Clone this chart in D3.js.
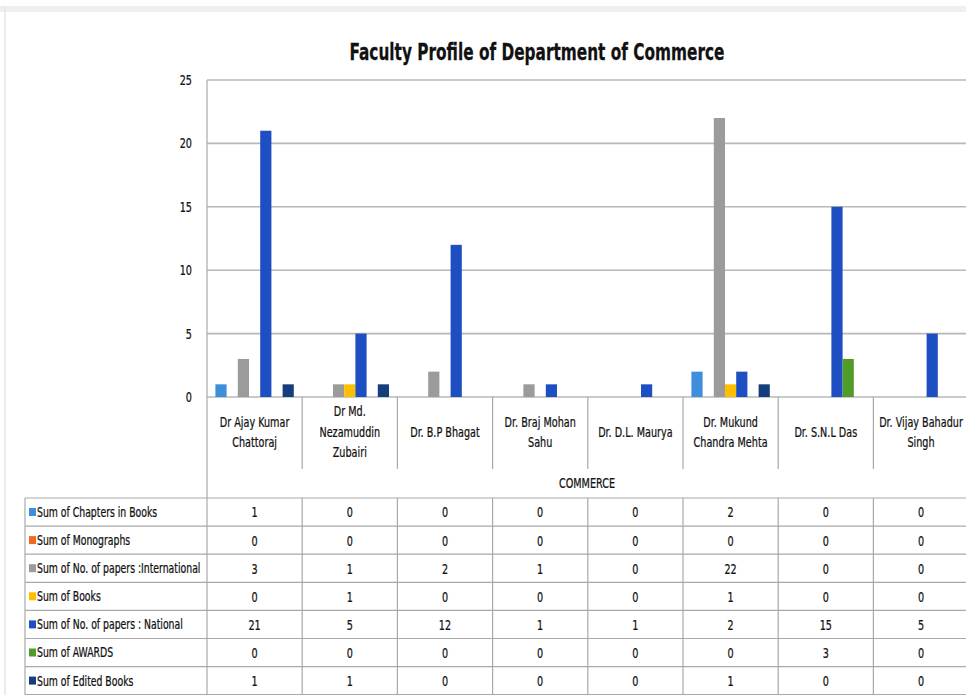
<!DOCTYPE html>
<html>
<head>
<meta charset="utf-8">
<script src="https://cdn.jsdelivr.net/npm/d3@7"></script>
<style>
  body { margin: 0; background: #fff; }
  svg text { font-family: "DejaVu Sans Condensed", "DejaVu Sans", sans-serif; fill: #111;
    stroke: #111; stroke-width: 0.25px; }
</style>
</head>
<body>
<svg id="chart" width="966" height="695"></svg>
<script>
// faculty names, split the way Excel wrapped them under the axis
const categories = ["Dr Ajay Kumar Chattoraj", "Dr Md. Nezamuddin Zubairi", "Dr. B.P Bhagat",
  "Dr. Braj Mohan Sahu", "Dr. D.L. Maurya", "Dr. Mukund Chandra Mehta", "Dr. S.N.L Das",
  "Dr. Vijay Bahadur Singh"];
const categoryLines = [["Dr Ajay Kumar", "Chattoraj"], ["Dr Md.", "Nezamuddin", "Zubairi"],
  ["Dr. B.P Bhagat"], ["Dr. Braj Mohan", "Sahu"], ["Dr. D.L. Maurya"],
  ["Dr. Mukund", "Chandra Mehta"], ["Dr. S.N.L Das"], ["Dr. Vijay Bahadur", "Singh"]];

const seriesNames = ["Sum of Chapters in Books", "Sum of Monographs",
  "Sum of No. of papers :International", "Sum of Books", "Sum of No. of papers : National",
  "Sum of AWARDS", "Sum of Edited Books"];
const seriesColors = ["#3d8edc", "#ef6a22", "#9b9b9b", "#ffbf00", "#1d4fc3", "#4f9c2b", "#143f7c"];

const chapters = [1, 0, 0, 0, 0, 2, 0, 0];
const monographs = [0, 0, 0, 0, 0, 0, 0, 0];
const papersIntl = [3, 1, 2, 1, 0, 22, 0, 0];
const books = [0, 1, 0, 0, 0, 1, 0, 0];
const papersNational = [21, 5, 12, 1, 1, 2, 15, 5];
const awards = [0, 0, 0, 0, 0, 0, 3, 0];
const editedBooks = [1, 1, 0, 0, 0, 1, 0, 0];

const yTicks = [0, 5, 10, 15, 20, 25];
const groupLabel = "COMMERCE";
const title = "Faculty Profile of Department of Commerce";

const seriesValues = [chapters, monographs, papersIntl, books, papersNational, awards, editedBooks];

const svg = d3.select("#chart");
const gridColor = "#b8b8b8";
const lineColor = "#a9a9a9";

// window frame left by the screenshot
svg.append("rect").attr("x", 0).attr("y", 6).attr("width", 966).attr("height", 6).attr("fill", "#efefef");
svg.append("line").attr("x1", 5).attr("x2", 5).attr("y1", 6).attr("y2", 695)
  .attr("stroke", "#e6e6e6").attr("stroke-width", 1.5);

const plotLeft = 207, plotRight = 968.6, plotTop = 80, plotBottom = 397;

const x = d3.scaleBand().domain(categories).range([plotLeft, plotRight]).padding(0);
const xs = d3.scaleBand().domain(seriesNames)
  .range([8.4, x.bandwidth() - 8.4]).padding(0);
const y = d3.scaleLinear().domain([0, 25]).range([plotBottom, plotTop]);

// title
svg.append("text").attr("x", 537).attr("y", 60).attr("text-anchor", "middle")
  .attr("font-size", 23).attr("font-weight", "bold").attr("class", "title").text(title);

// gridlines
svg.append("g").selectAll("line").data(yTicks).join("line")
  .attr("x1", plotLeft).attr("x2", 966)
  .attr("y1", d => y(d)).attr("y2", d => y(d))
  .attr("stroke", gridColor).attr("stroke-width", 1.6);

// y axis labels
svg.append("g").selectAll("text").data(yTicks).join("text")
  .attr("x", 192).attr("y", d => y(d) + 5)
  .attr("text-anchor", "end").attr("font-size", 14.5).text(d => d);

// bars
const barG = svg.append("g");
seriesValues.forEach((vals, si) => {
  barG.append("g").attr("fill", seriesColors[si])
    .selectAll("rect").data(vals.map((v, i) => ({ v, c: categories[i] }))).join("rect")
    .attr("x", d => x(d.c) + xs(seriesNames[si]))
    .attr("width", xs.bandwidth())
    .attr("y", d => y(d.v))
    .attr("height", d => y(0) - y(d.v));
});

// left axis line through chart + table
svg.append("line").attr("x1", plotLeft).attr("x2", plotLeft).attr("y1", plotTop).attr("y2", 694)
  .attr("stroke", lineColor).attr("stroke-width", 1.2);

// category separators under the axis
svg.append("g").selectAll("line").data(categories.slice(1)).join("line")
  .attr("x1", d => x(d)).attr("x2", d => x(d))
  .attr("y1", plotBottom).attr("y2", 469)
  .attr("stroke", lineColor).attr("stroke-width", 1.2);

// category labels
const lineH = 20.5;
svg.append("g").selectAll("text").data(categories).join("text")
  .attr("text-anchor", "middle").attr("font-size", 14.5)
  .attr("x", d => x(d) + x.bandwidth() / 2)
  .each(function (d, i) {
    const lines = categoryLines[i];
    const startY = 437 - (lines.length - 1) * lineH / 2;
    d3.select(this).selectAll("tspan").data(lines).join("tspan")
      .attr("x", x(d) + x.bandwidth() / 2)
      .attr("y", (l, j) => startY + j * lineH)
      .text(l => l);
  });

svg.append("text").attr("x", 587).attr("y", 488).attr("text-anchor", "middle")
  .attr("font-size", 14.5).text(groupLabel);

// data table
const tableTop = 498, rowH = 28.1, tableLeft = 25;
const rows = d3.range(seriesNames.length + 1).map(i => tableTop + i * rowH);
svg.append("g").selectAll("line").data(rows).join("line")
  .attr("x1", tableLeft).attr("x2", 966).attr("y1", d => d).attr("y2", d => d)
  .attr("stroke", lineColor).attr("stroke-width", 1.2);
svg.append("line").attr("x1", tableLeft).attr("x2", tableLeft)
  .attr("y1", tableTop).attr("y2", rows[rows.length - 1])
  .attr("stroke", lineColor).attr("stroke-width", 1.2);
svg.append("g").selectAll("line").data(categories.slice(1)).join("line")
  .attr("x1", d => x(d)).attr("x2", d => x(d))
  .attr("y1", tableTop).attr("y2", rows[rows.length - 1])
  .attr("stroke", lineColor).attr("stroke-width", 1.2);

const rowG = svg.append("g").selectAll("g").data(seriesNames).join("g")
  .attr("transform", (d, i) => `translate(0,${tableTop + i * rowH})`);
rowG.append("rect").attr("x", 29).attr("y", 10).attr("width", 7).attr("height", 8)
  .attr("fill", (d, i) => seriesColors[i]);
rowG.append("text").attr("x", 37).attr("y", 19).attr("font-size", 14).text(d => d);
rowG.each(function (d, si) {
  d3.select(this).selectAll("text.v").data(seriesValues[si]).join("text")
    .attr("class", "v")
    .attr("x", (v, i) => x(categories[i]) + x.bandwidth() / 2)
    .attr("y", 19.5).attr("text-anchor", "middle").attr("font-size", 14.5)
    .text(v => v);
});

// the source font is a narrow one; squeeze our text horizontally around its anchor
const squeeze = 0.74;
svg.selectAll("text").each(function () {
  const el = d3.select(this);
  const ax = +el.attr("x");
  let s = squeeze;
  if (el.classed("title")) s = 375 / this.getComputedTextLength();
  el.attr("transform", `translate(${ax},0) scale(${s},1) translate(${-ax},0)`);
});
</script>
</body>
</html>
